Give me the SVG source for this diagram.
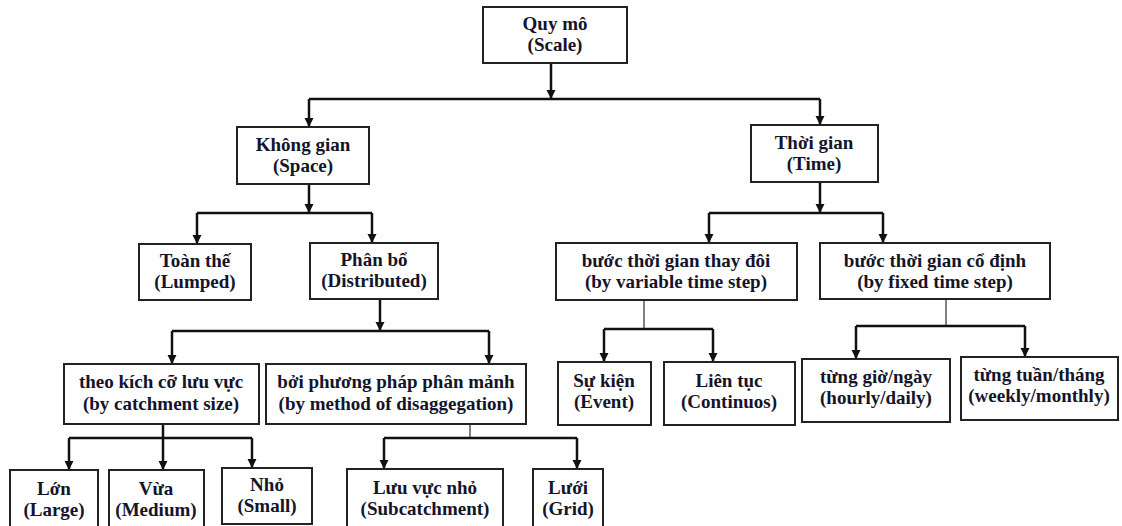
<svg xmlns="http://www.w3.org/2000/svg" width="1122" height="526" viewBox="0 0 1122 526">
  <defs>
    <marker id="arr" viewBox="0 0 10 10" refX="10" refY="5" markerWidth="9" markerHeight="10" markerUnits="userSpaceOnUse" orient="auto">
      <path d="M0,0 L10,5 L0,10 Z" fill="#111"/>
    </marker>
    <style>
      .box { fill: #fff; stroke: #222; stroke-width: 2; }
      .lbl { font-family: "Liberation Serif", "Times New Roman", serif; font-weight: bold; font-size: 19px; fill: #14142a; text-anchor: middle; }
      .ln { fill: none; stroke: #111; stroke-width: 2.5; }
      .lna { fill: none; stroke: #111; stroke-width: 2.5; marker-end: url(#arr); }
      .gray { fill: none; stroke: #808080; stroke-width: 2; }
    </style>
  </defs>
  <rect width="1122" height="526" fill="#fff"/>

  <!-- connectors -->
  <g id="connectors">
    <!-- Quy mo -> Khong gian / Thoi gian -->
    <line class="lna" x1="551" y1="63" x2="551" y2="99"/>
    <line class="ln" x1="309" y1="99" x2="820" y2="99"/>
    <line class="lna" x1="309" y1="99" x2="309" y2="127"/>
    <line class="lna" x1="820" y1="99" x2="820" y2="125"/>

    <!-- Khong gian -> Toan the / Phan bo -->
    <line class="lna" x1="309" y1="184" x2="309" y2="213"/>
    <line class="ln" x1="197" y1="213" x2="372" y2="213"/>
    <line class="lna" x1="197" y1="213" x2="197" y2="244"/>
    <line class="lna" x1="372" y1="213" x2="372" y2="243"/>

    <!-- Thoi gian -> buoc thay doi / co dinh -->
    <line class="lna" x1="820" y1="182" x2="820" y2="213"/>
    <line class="ln" x1="709" y1="213" x2="883" y2="213"/>
    <line class="lna" x1="709" y1="213" x2="709" y2="243"/>
    <line class="lna" x1="883" y1="213" x2="883" y2="243"/>

    <!-- Phan bo -> theo kich co / boi phuong phap -->
    <line class="lna" x1="380" y1="299" x2="380" y2="331"/>
    <line class="ln" x1="172" y1="331" x2="489" y2="331"/>
    <line class="lna" x1="172" y1="331" x2="172" y2="364"/>
    <line class="lna" x1="489" y1="331" x2="489" y2="364"/>

    <!-- buoc thay doi -> Su kien / Lien tuc -->
    <line class="gray" x1="644" y1="300" x2="644" y2="329"/>
    <line class="ln" x1="604" y1="329" x2="713" y2="329"/>
    <line class="lna" x1="604" y1="329" x2="604" y2="362"/>
    <line class="lna" x1="713" y1="329" x2="713" y2="362"/>

    <!-- buoc co dinh -> tung gio / tung tuan -->
    <line class="gray" x1="946" y1="299" x2="946" y2="326"/>
    <line class="ln" x1="856" y1="326" x2="1025" y2="326"/>
    <line class="lna" x1="856" y1="326" x2="856" y2="359"/>
    <line class="lna" x1="1025" y1="326" x2="1025" y2="357"/>

    <!-- theo kich co -> Lon / Vua / Nho -->
    <line class="lna" x1="163" y1="424" x2="163" y2="470"/>
    <line class="ln" x1="69" y1="438" x2="252" y2="438"/>
    <line class="lna" x1="69" y1="438" x2="69" y2="470"/>
    <line class="lna" x1="252" y1="438" x2="252" y2="468"/>

    <!-- boi phuong phap -> Luu vuc nho / Luoi -->
    <line class="gray" x1="470" y1="424" x2="470" y2="438"/>
    <line class="ln" x1="384" y1="438" x2="577" y2="438"/>
    <line class="lna" x1="384" y1="438" x2="384" y2="469"/>
    <line class="lna" x1="577" y1="438" x2="577" y2="469"/>
  </g>

  <!-- nodes -->
  <g id="quy-mo">
    <rect class="box" x="483" y="7" width="144" height="56"/>
    <text class="lbl" x="555" y="30">Quy mô</text>
    <text class="lbl" x="555" y="51">(Scale)</text>
  </g>
  <g id="khong-gian">
    <rect class="box" x="237" y="127" width="132" height="57"/>
    <text class="lbl" x="303" y="151">Không gian</text>
    <text class="lbl" x="303" y="172">(Space)</text>
  </g>
  <g id="thoi-gian">
    <rect class="box" x="751" y="125" width="127" height="57"/>
    <text class="lbl" x="814" y="149">Thời gian</text>
    <text class="lbl" x="814" y="170">(Time)</text>
  </g>
  <g id="toan-the">
    <rect class="box" x="139" y="244" width="112" height="56"/>
    <text class="lbl" x="195" y="267">Toàn thế</text>
    <text class="lbl" x="195" y="288">(Lumped)</text>
  </g>
  <g id="phan-bo">
    <rect class="box" x="310" y="243" width="128" height="56"/>
    <text class="lbl" x="374" y="266">Phân bổ</text>
    <text class="lbl" x="374" y="287">(Distributed)</text>
  </g>
  <g id="buoc-thay-doi">
    <rect class="box" x="556" y="243" width="241" height="57"/>
    <text class="lbl" x="676" y="267">bước thời gian thay đôi</text>
    <text class="lbl" x="676" y="288">(by variable time step)</text>
  </g>
  <g id="buoc-co-dinh">
    <rect class="box" x="820" y="243" width="230" height="56"/>
    <text class="lbl" x="935" y="267">bước thời gian cổ định</text>
    <text class="lbl" x="935" y="288">(by fixed time step)</text>
  </g>
  <g id="theo-kich-co">
    <rect class="box" x="64" y="364" width="195" height="60"/>
    <text class="lbl" x="161" y="388">theo kích cỡ lưu vực</text>
    <text class="lbl" x="161" y="410">(by catchment size)</text>
  </g>
  <g id="boi-phuong-phap">
    <rect class="box" x="266" y="364" width="260" height="60"/>
    <text class="lbl" x="396" y="388">bởi phương pháp phân mảnh</text>
    <text class="lbl" x="396" y="410">(by method of disaggegation)</text>
  </g>
  <g id="su-kien">
    <rect class="box" x="558" y="362" width="93" height="63"/>
    <text class="lbl" x="604" y="387">Sự kiện</text>
    <text class="lbl" x="604" y="408">(Event)</text>
  </g>
  <g id="lien-tuc">
    <rect class="box" x="664" y="362" width="131" height="63"/>
    <text class="lbl" x="729" y="387">Liên tục</text>
    <text class="lbl" x="729" y="408">(Continuos)</text>
  </g>
  <g id="tung-gio">
    <rect class="box" x="802" y="359" width="148" height="63"/>
    <text class="lbl" x="876" y="383">từng giờ/ngày</text>
    <text class="lbl" x="876" y="404">(hourly/daily)</text>
  </g>
  <g id="tung-tuan">
    <rect class="box" x="961" y="357" width="157" height="63"/>
    <text class="lbl" x="1039" y="381">từng tuần/tháng</text>
    <text class="lbl" x="1039" y="402">(weekly/monthly)</text>
  </g>
  <g id="lon">
    <rect class="box" x="10" y="470" width="88" height="58"/>
    <text class="lbl" x="54" y="495">Lớn</text>
    <text class="lbl" x="54" y="516">(Large)</text>
  </g>
  <g id="vua">
    <rect class="box" x="109" y="470" width="95" height="58"/>
    <text class="lbl" x="156" y="495">Vừa</text>
    <text class="lbl" x="156" y="516">(Medium)</text>
  </g>
  <g id="nho">
    <rect class="box" x="222" y="468" width="90" height="56"/>
    <text class="lbl" x="267" y="491">Nhỏ</text>
    <text class="lbl" x="267" y="512">(Small)</text>
  </g>
  <g id="luu-vuc-nho">
    <rect class="box" x="347" y="469" width="156" height="58"/>
    <text class="lbl" x="425" y="494">Lưu vực nhỏ</text>
    <text class="lbl" x="425" y="515">(Subcatchment)</text>
  </g>
  <g id="luoi">
    <rect class="box" x="533" y="469" width="70" height="58"/>
    <text class="lbl" x="568" y="494">Lưới</text>
    <text class="lbl" x="568" y="515">(Grid)</text>
  </g>
</svg>
